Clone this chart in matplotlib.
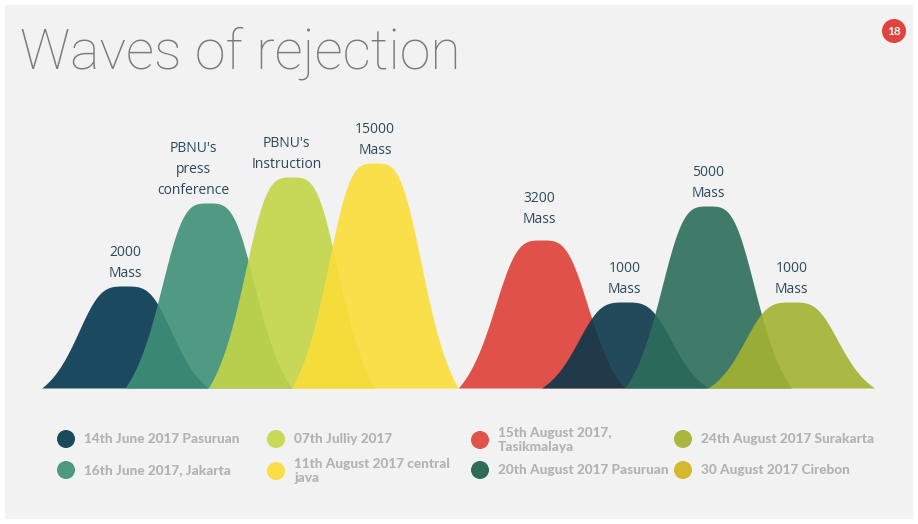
"""Waves of rejection - slide chart with overlapping bell-shaped humps."""
import matplotlib

matplotlib.use("Agg")
import matplotlib.pyplot as plt
import numpy as np
from matplotlib.patches import Circle, Rectangle

# data: slot position of each wave and its visual peak height
slots = [0, 1, 2, 3, 5, 6, 7, 8]
heights = [102, 185, 211, 225, 148, 86, 182, 86]
wave_colors = ["#03374f", "#3e9076", "#c3d647", "#fadd37",
               "#de4137", "#0c384b", "#2c6d5a", "#a2b231"]
wave_labels = ["2000\nMass", "PBNU's\npress\nconference", "PBNU's\nInstruction",
               "15000\nMass", "3200\nMass", "1000\nMass", "5000\nMass", "1000\nMass"]

legend_labels = ["14th June 2017 Pasuruan", "16th June 2017, Jakarta",
                 "07th Julliy 2017", "11th August 2017 central\njava",
                 "15th August 2017,\nTasikmalaya", "20th August 2017 Pasuruan",
                 "24th August 2017 Surakarta", "30 August 2017 Cirebon"]
legend_colors = ["#1b4a5f", "#4d9a80", "#c8d955", "#fade46",
                 "#e0524a", "#2e6b58", "#a9b83d", "#d4b830"]

# layout (pixels)
label_dx = [0, -15, -5, 0, -2, 0, 0, 0]
label_dy = [0, 0, 0, 0, 8, 0, 0, 0]
legend_xy = [(66, 439), (66, 470), (276, 439), (276, 471),
             (480, 440), (480, 470), (683, 439), (683, 470)]

BG = "#f2f2f2"


def bell(t, a=0.65, p=3.5):
    f = 1.0 / (1.0 + (np.abs(t) / a) ** p)
    f1 = 1.0 / (1.0 + (1.0 / a) ** p)
    return np.clip((f - f1) / (1 - f1), 0, None)


fig = plt.figure(figsize=(9.18, 5.24), dpi=100)
fig.patch.set_facecolor("white")

# slide background + title + legend in pixel coordinates
bg = fig.add_axes([0, 0, 1, 1], zorder=0)
bg.set_xlim(0, 918)
bg.set_ylim(524, 0)
bg.axis("off")
bg.add_patch(Rectangle((5, 5), 908, 514, facecolor=BG, edgecolor="none"))
bg.text(20, 68, "Waves of rejection", family="Roboto", fontweight="light",
        fontsize=40, color="#7a7a7a", va="baseline", ha="left")
bg.add_patch(Circle((894, 31), 12, facecolor="#e0443e", edgecolor="none"))
bg.text(894, 31.5, "18", color="white", fontsize=8.5, fontweight="bold",
        ha="center", va="center", family="Lato")

for (cx, cy), lab, col in zip(legend_xy, legend_labels, legend_colors):
    bg.add_patch(Circle((cx, cy), 9, facecolor=col, edgecolor="none"))
    bg.text(cx + 18, cy, lab, family="Lato", fontweight="black", fontsize=9.8,
            color="#b3b3b3", ha="left", va="center", linespacing=1.2)

# chart axes: x in slot units, y in height units
x0, x1, step, c0 = 30, 890, 83.3, 125
ax = fig.add_axes([x0 / 918, (524 - 388) / 524, (x1 - x0) / 918, 288 / 524], zorder=1)
ax.set_xlim((x0 - c0) / step, (x1 - c0) / step)
ax.set_ylim(0, 288)
ax.axis("off")
ax.patch.set_alpha(0)

t = np.linspace(-1, 1, 400)
for s, h, col, lab, dx, dy in zip(slots, heights, wave_colors, wave_labels,
                                  label_dx, label_dy):
    ax.fill_between(s + t, 0, h * bell(t), color=col, alpha=0.9, lw=0)
    ax.annotate(lab, (s, h), xytext=(dx * 0.72, (5 + dy) * 0.72),
                textcoords="offset points", ha="center", va="bottom",
                family="Open Sans", fontsize=10, color="#2c4a5b", linespacing=1.55)

fig.savefig("out.png", dpi=100, facecolor=fig.get_facecolor())
